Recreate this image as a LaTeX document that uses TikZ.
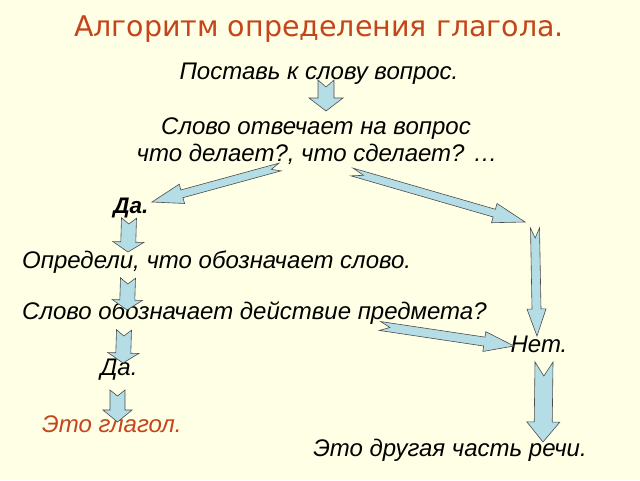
\documentclass[tikz,border=0pt]{standalone}
\usepackage{fontspec}
\setmainfont{Liberation Sans}
\newfontfamily\titlefont{DejaVu Sans}
\usetikzlibrary{calc}
\definecolor{bgcol}{HTML}{FFFFE5}
\definecolor{arrfill}{HTML}{B5DDE6}
\definecolor{titlered}{HTML}{C4441C}
\tikzset{
  blk/.style={draw=black!70, fill=arrfill, line width=0.6pt, line join=miter},
  txt/.style={inner sep=0pt, font=\itshape\fontsize{24}{24}\selectfont}
}
% #1 tail, #2 tip, #3 half shaft, #4 half head, #5 head length, #6 notch depth
\newcommand\blockarr[6]{%
  \coordinate (hh) at ($(#2)!#5!(#1)$);
  \draw[blk] ($(#1)!#3!90:(#2)$) -- ($(hh)!#3!90:(#2)$) -- ($(hh)!#4!90:(#2)$) -- (#2)
    -- ($(hh)!#4!-90:(#2)$) -- ($(hh)!#3!-90:(#2)$) -- ($(#1)!#3!-90:(#2)$)
    -- ($(#1)!#6!(#2)$) -- cycle;}
\begin{document}
\begin{tikzpicture}[x=1pt,y=-1pt]
\fill[bgcol] (0,0) rectangle (640,480);
\useasboundingbox (0,0) rectangle (640,480);

\node[inner sep=0pt, text=titlered, font=\titlefont\fontsize{28.5}{28.5}\selectfont] (title) at (319,29) {Алгоритм определения глагола.};
\node[txt] (t1) at (319,74) {Поставь к слову вопрос.};
\node[txt] (t2) at (316,129) {Слово отвечает на вопрос};
\node[txt] (t3) at (317,154) {что делает?, что сделает? …};
\node[txt, font=\bfseries\itshape\fontsize{22.5}{22.5}\selectfont] (da1) at (131,208) {Да.};
\node[txt, anchor=west] (t4) at (22,262) {Определи, что обозначает слово.};
\node[txt, anchor=west] (t5) at (22,313) {Слово обозначает действие предмета?};
\node[txt] (net) at (539,344) {Нет.};
\node[txt] (da2) at (119,370) {Да.};
\node[txt, anchor=west, text=titlered] (glagol) at (42,424) {Это глагол.};
\node[txt] (other) at (450,450) {Это другая часть речи.};

% arrow end points
\coordinate (a1s) at (326,80);   \coordinate (a1e) at (326,111);
\coordinate (a2s) at (280,167);  \coordinate (a2e) at (152,202);
\coordinate (a3s) at (352,172);  \coordinate (a3e) at (525,222);
\coordinate (a4s) at (535,228);  \coordinate (a4e) at (537,336);
\coordinate (a5s) at (380,326);  \coordinate (a5e) at (514,346);
\coordinate (a6s) at (129,218);  \coordinate (a6e) at (128,252);
\coordinate (a7s) at (128,278);  \coordinate (a7e) at (127,310);
\coordinate (a8s) at (124,330);  \coordinate (a8e) at (123,363);
\coordinate (a9s) at (117.5,390);\coordinate (a9e) at (117.5,422);
\coordinate (a10s) at (544,362); \coordinate (a10e) at (543,442);

\blockarr{a1s}{a1e}{8pt}{17pt}{13pt}{7pt}
\blockarr{a2s}{a2e}{4pt}{10pt}{31pt}{9pt}
\blockarr{a3s}{a3e}{4pt}{10pt}{32pt}{12pt}
\blockarr{a4s}{a4e}{4.5pt}{9.5pt}{27pt}{10pt}
\blockarr{a5s}{a5e}{4.5pt}{10pt}{30pt}{10pt}
\blockarr{a6s}{a6e}{7.5pt}{15.5pt}{10pt}{6pt}
\blockarr{a7s}{a7e}{7.5pt}{15pt}{10pt}{6pt}
\blockarr{a8s}{a8e}{7.5pt}{15.5pt}{10pt}{6pt}
\blockarr{a9s}{a9e}{7.5pt}{14.5pt}{12pt}{6pt}
\blockarr{a10s}{a10e}{9pt}{16.5pt}{20pt}{14pt}
\end{tikzpicture}
\end{document}
